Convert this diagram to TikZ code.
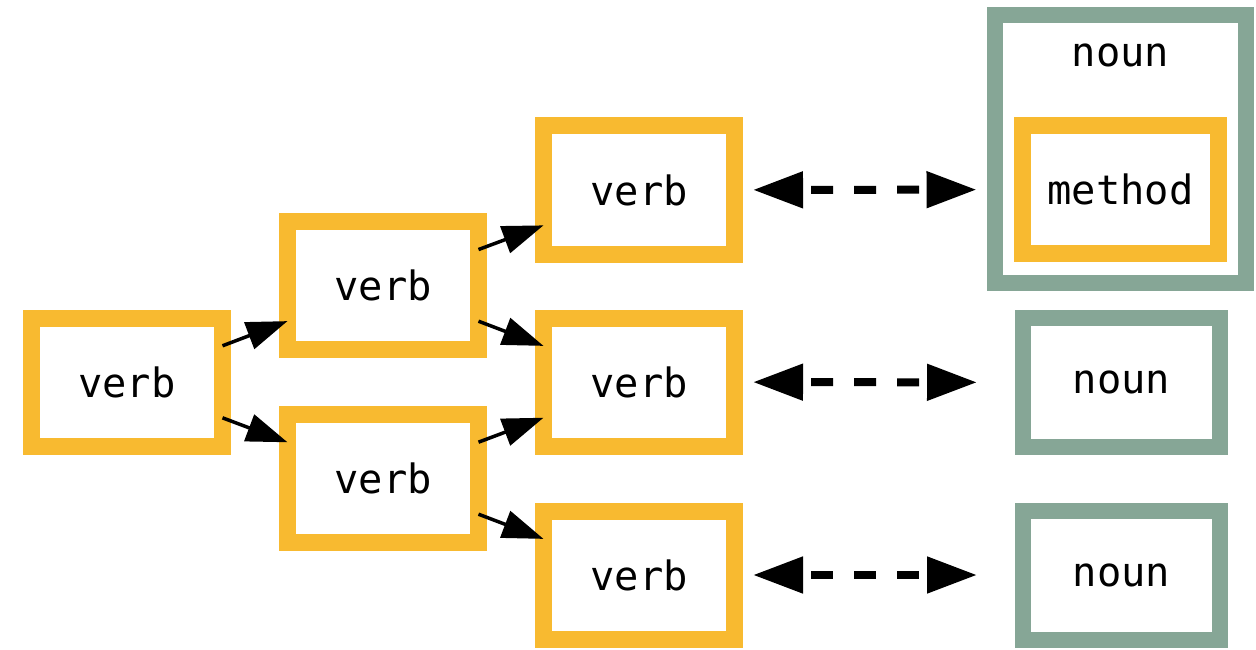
\documentclass[tikz,border=0pt]{standalone}
\usepackage{fontspec}
\setmonofont{DejaVu Sans Mono}
\usetikzlibrary{arrows.meta, positioning}
\definecolor{vnorange}{RGB}{248,186,48}
\definecolor{vngreen}{RGB}{134,166,150}

\begin{document}
\begin{tikzpicture}[
  every node/.style={font=\fontsize{23}{27}\selectfont\ttfamily},
  verbnode/.style={rectangle, draw=vnorange, line width=0.34cm, fill=white, minimum width=3.82cm, minimum height=2.56cm, outer sep=0pt},
  nounnode/.style={rectangle, draw=vngreen, line width=0.32cm, fill=white, minimum width=3.94cm, minimum height=2.58cm, outer sep=0pt},
  callarrow/.style={-{Triangle[length=0.82cm, width=0.56cm]}, line width=0.07cm},
  linkarrow/.style={{Triangle[length=1cm, width=0.7cm]}-{Triangle[length=1cm, width=0.7cm]}, line width=0.16cm, dash pattern=on 0.44cm off 0.42cm, dash phase=0.66cm, shorten <=0.37cm, shorten >=0.92cm},
]
\useasboundingbox (0,0) rectangle (25.12,12.98);

% Verbs
\node[verbnode] (v1) at (2.54, 5.34) {verb};
\node[verbnode] (v2) at (7.66, 7.28) {verb};
\node[verbnode] (v3) at (7.66, 3.42) {verb};
\node[verbnode] (v4) at (12.78, 9.18) {verb};
\node[verbnode] (v5) at (12.78, 5.34) {verb};
\node[verbnode] (v6) at (12.78, 1.48) {verb};

% Nouns
\node[nounnode, minimum width=5.02cm, minimum height=5.34cm] (n1) at (22.41, 10.0) {};
\node (n1label) at (22.41, 11.88) {noun};
\node[verbnode, minimum width=3.92cm] (m1) at (22.41, 9.19) {method};
\node[nounnode] (n2) at (22.43, 5.33) {noun};
\node[nounnode] (n3) at (22.43, 1.48) {noun};

\draw[callarrow] (v1) -- (v2);
\draw[callarrow] (v1) -- (v3);
\draw[callarrow] (v2) -- (v4);
\draw[callarrow] (v2) -- (v5);
\draw[callarrow] (v3) -- (v5);
\draw[callarrow] (v3) -- (v6);

\draw[linkarrow] (v4) -- (m1);
\draw[linkarrow] (v5) -- (n2);
\draw[linkarrow] (v6) -- (n3);

\end{tikzpicture}
\end{document}
